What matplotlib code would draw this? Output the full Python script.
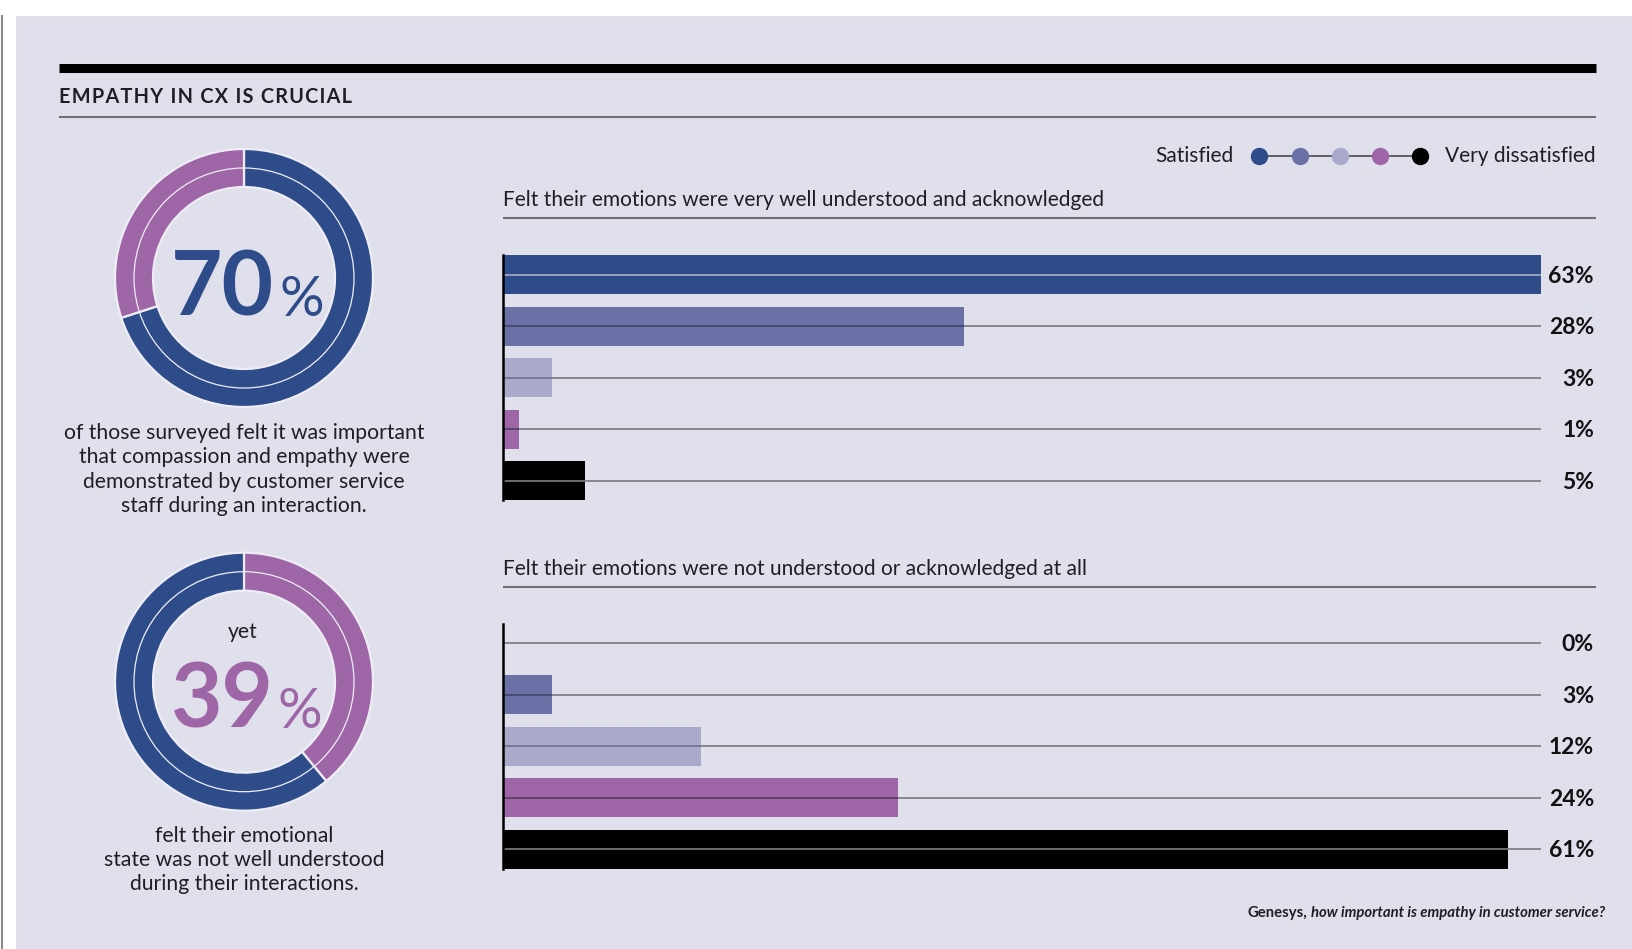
import matplotlib
matplotlib.use("Agg")
import matplotlib.pyplot as plt
from matplotlib.patches import Rectangle
from matplotlib.lines import Line2D
from matplotlib.transforms import blended_transform_factory

plt.rcParams['font.family'] = ['Lato', 'DejaVu Sans']

# ---- data -------------------------------------------------------------
scale_ends = ["Satisfied", "Very dissatisfied"]
level_colors = ["#2e4c8a", "#6b71a6", "#aaa9cb", "#9e66a6", "#000000"]
# colour of the row rule where it crosses each bar
rule_on_bar = ["#b5b8cf", "#3f4263", "#6c6c84", "#4e3a58", "#8a8a8a"]

understood_title = "Felt their emotions were very well understood and acknowledged"
understood_vals = [63, 28, 3, 1, 5]
not_understood_title = "Felt their emotions were not understood or acknowledged at all"
not_understood_vals = [0, 3, 12, 24, 61]

important_pct = 70
important_caption = ["of those surveyed felt it was important",
                     "that compassion and empathy were",
                     "demonstrated by customer service",
                     "staff during an interaction."]
misread_pct = 39
misread_caption = ["felt their emotional",
                   "state was not well understood",
                   "during their interactions."]

heading = "EMPATHY IN CX IS CRUCIAL"
source_org = "Genesys,"
source_title = "how important is empathy in customer service?"

# ---- figure -----------------------------------------------------------
W, H = 1633, 949
BG = "#e0dfec"
INK = "#1e1e24"
RULE = "#6e6e76"
BLUE, PURPLE = level_colors[0], level_colors[3]

fig = plt.figure(figsize=(W / 100, H / 100), dpi=100)
fig.patch.set_facecolor("white")


def fx(x):
    return x / W


def fy(y):
    return 1 - y / H


def hline(x0, x1, y, lw, color):
    fig.add_artist(Line2D([fx(x0), fx(x1)], [fy(y), fy(y)], lw=lw,
                          color=color, solid_capstyle="butt"))


# page panel and left margin rule
fig.add_artist(Rectangle((fx(16), 0), 1 - fx(16), fy(16), color=BG, lw=0,
                         zorder=-10))
fig.add_artist(Line2D([fx(2.5), fx(2.5)], [0, fy(16)], lw=1.5, color="#8a8a8a",
                      zorder=-10))

# header
hline(59, 1596, 67.5, 6.5, "#000000")
fig.text(fx(59), fy(97), "\u200a".join(heading), fontsize=14.3, fontweight="bold",
         color=INK, ha="left", va="center")
hline(59, 1596, 117, 1.5, RULE)

# scale legend
dot_x = [1259, 1299.5, 1340, 1380, 1420.5]
fig.add_artist(Line2D([fx(dot_x[0]), fx(dot_x[-1])], [fy(155.5)] * 2,
                      lw=1.3, color="#55555c"))
for x, c in zip(dot_x, level_colors):
    fig.add_artist(Line2D([fx(x)], [fy(155.5)], marker="o", markersize=11.5,
                          markerfacecolor=c, markeredgecolor=c, lw=0))
fig.text(fx(1234), fy(156), scale_ends[0], fontsize=15, color=INK,
         ha="right", va="center")
fig.text(fx(1445), fy(156), scale_ends[1], fontsize=15, color=INK,
         ha="left", va="center")


# ---- donuts -----------------------------------------------------------
def donut(cy, values, colors):
    cx, R = 244, 129
    ax = fig.add_axes([fx(cx - R), fy(cy + R), 2 * R / W, 2 * R / H])
    ax.pie(values, colors=colors, startangle=90, counterclock=False,
           radius=1.0,
           wedgeprops=dict(width=38 / R, edgecolor="#eeedf5", linewidth=1.6))
    ring = plt.Circle((0, 0), 110 / R, fill=False, lw=0.9, color="#eeedf5")
    ax.add_patch(ring)
    ax.set_xlim(-1.0, 1.0)
    ax.set_ylim(-1.0, 1.0)
    ax.set_axis_off()
    return ax


donut(278, [important_pct, 100 - important_pct], [BLUE, PURPLE])
fig.text(fx(274), fy(316), f"{important_pct}", fontsize=64, fontweight="bold",
         color=BLUE, ha="right", va="baseline", zorder=5)
fig.text(fx(280), fy(316), "%", fontsize=40, fontweight="normal",
         color=BLUE, ha="left", va="baseline", zorder=5)
for i, line in enumerate(important_caption):
    fig.text(fx(244), fy(433 + 24.4 * i), line, fontsize=15.2, color=INK,
             ha="center", va="center")

donut(681.7, [misread_pct, 100 - misread_pct], [PURPLE, BLUE])
fig.text(fx(243), fy(632), "yet", fontsize=15.2, color=INK,
         ha="center", va="center", zorder=5)
fig.text(fx(273), fy(728), f"{misread_pct}", fontsize=64, fontweight="bold",
         color=PURPLE, ha="right", va="baseline", zorder=5)
fig.text(fx(277), fy(728), "%", fontsize=40, fontweight="normal",
         color=PURPLE, ha="left", va="baseline", zorder=5)
for i, line in enumerate(misread_caption):
    fig.text(fx(244), fy(836 + 24 * i), line, fontsize=15.2, color=INK,
             ha="center", va="center")


# ---- bar panels -------------------------------------------------------
x_max = max(max(understood_vals), max(not_understood_vals))
pitch = 51.5
bar_px = 39
bar_h = bar_px / pitch


def bar_panel(top_px, title_y, title, values):
    n = len(values)
    height_px = (n - 1) * pitch + bar_px
    ax = fig.add_axes([fx(503), fy(top_px + height_px),
                       (1541 - 503) / W, height_px / H])
    ax.set_facecolor("none")
    rows = list(range(n))
    ax.hlines(rows, 0, x_max, color=RULE, lw=1.1, zorder=1)
    ax.barh(rows, values, height=bar_h, color=level_colors, zorder=2, lw=0)
    for r, v in zip(rows, values):
        if v > 0:
            ax.hlines(r, 0, v, color=rule_on_bar[r], lw=1.1, zorder=3)
    ax.set_xlim(0, x_max)
    ax.set_ylim(n - 1 + bar_h / 2, -bar_h / 2)
    for side in ("top", "right", "bottom"):
        ax.spines[side].set_visible(False)
    ax.spines["left"].set_color("#000000")
    ax.spines["left"].set_linewidth(1.8)
    ax.spines["left"].set_zorder(4)
    ax.set_xticks([])
    ax.set_yticks([])
    tr = blended_transform_factory(fig.transFigure, ax.transData)
    for r, v in zip(rows, values):
        ax.text(fx(1594), r + 0.03, f"{v}%", transform=tr, fontsize=16.5,
                fontweight="bold", color="#111111", ha="right", va="center",
                clip_on=False)
    fig.text(fx(503), fy(title_y), title, fontsize=15, color=INK,
             ha="left", va="center")
    hline(503, 1596, title_y + 18, 1.5, RULE)
    return ax


bar_panel(255, 200, understood_title, understood_vals)
bar_panel(623.5, 569, not_understood_title, not_understood_vals)

# ---- source line ------------------------------------------------------
src = fig.text(fx(1605), fy(913), source_title, fontsize=10.7,
               fontweight="bold", fontstyle="italic", color=INK,
               ha="right", va="center")
renderer = fig.canvas.get_renderer()
bb = src.get_window_extent(renderer=renderer)
fig.text((bb.x0 - 4) / W, fy(913), source_org, fontsize=10.7,
         fontweight="bold", color=INK, ha="right", va="center")

fig.savefig("out.png", dpi=100, facecolor=fig.get_facecolor())
